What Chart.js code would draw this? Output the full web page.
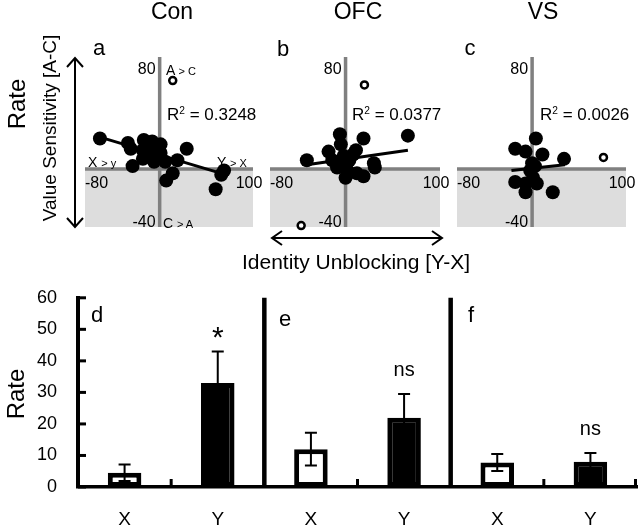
<!DOCTYPE html>
<html>
<head>
<meta charset="utf-8">
<script src="https://cdn.jsdelivr.net/npm/chart.js@4.4.1/dist/chart.umd.min.js"></script>
<style>
  body { margin: 0; background: #fff; }
  #fig { position: relative; width: 640px; height: 527px; overflow: hidden;
         font-family: "Liberation Sans", Arial, sans-serif; color: #000; }
  canvas { position: absolute; }
  .c { position: absolute; white-space: nowrap; line-height: 1; transform: translate(-50%, -50%); }
  .l { position: absolute; white-space: nowrap; line-height: 1; }
  .rot { position: absolute; white-space: nowrap; line-height: 1; transform: translate(-50%, -50%) rotate(-90deg); }
  .sm { font-size: 11px; }
  sup { font-size: 60%; vertical-align: 0.55em; }
</style>
</head>
<body>
<div id="fig">
  <canvas id="scA" width="230" height="200" style="left:45px;top:40px"></canvas>
  <canvas id="scB" width="235" height="200" style="left:230px;top:40px"></canvas>
  <canvas id="scC" width="223" height="200" style="left:417px;top:40px"></canvas>
  <canvas id="bars" width="640" height="261" style="left:0;top:266px"></canvas>

  <svg width="640" height="527" style="position:absolute;left:0;top:0" fill="none" stroke="#000" stroke-width="2">
    <path d="M75 58 V227 M67 67 L75 58 L83 67 M67 218 L75 227 L83 218"/>
    <path d="M272 238 H442 M282 231 L272 238 L282 245 M432 231 L442 238 L432 245"/>
  </svg>

  <div class="c" style="left:172px;top:11px;font-size:23px">Con</div>
  <div class="c" style="left:358px;top:11px;font-size:23px">OFC</div>
  <div class="c" style="left:543px;top:11px;font-size:23px">VS</div>

  <div class="c" style="left:99px;top:48px;font-size:22px">a</div>
  <div class="c" style="left:283px;top:49px;font-size:22px">b</div>
  <div class="c" style="left:470px;top:48px;font-size:22px">c</div>

  <div class="rot" style="left:17px;top:104px;font-size:24px">Rate</div>
  <div class="rot" style="left:49px;top:128px;font-size:19px">Value Sensitivity [A-C]</div>
  <div class="c" style="left:356px;top:261px;font-size:21px">Identity Unblocking [Y-X]</div>

  <div class="l" style="left:166px;top:63px;font-size:14px">A <span class="sm">&gt; C</span></div>
  <div class="l" style="left:88px;top:155px;font-size:14px">X <span class="sm">&gt; y</span></div>
  <div class="l" style="left:217px;top:155px;font-size:14px">Y <span class="sm">&gt; X</span></div>
  <div class="l" style="left:163px;top:216px;font-size:14px">C <span class="sm">&gt; A</span></div>

  <div class="l" id="r2a" style="left:167px;top:106px;font-size:17px"></div>
  <div class="l" id="r2b" style="left:352px;top:106px;font-size:17px"></div>
  <div class="l" id="r2c" style="left:540px;top:106px;font-size:17px"></div>

  <div class="rot" style="left:16px;top:394px;font-size:24px">Rate</div>
  <div class="c" style="left:97px;top:315px;font-size:22px">d</div>
  <div class="c" style="left:285px;top:319px;font-size:22px">e</div>
  <div class="c" style="left:471px;top:315px;font-size:22px">f</div>
</div>

<script>
// ---- scatter data (a: Con, b: OFC, c: VS)
const conX = [-64, -34, -31, -17, -18, -8, 1, -2, -10, -18, -29, -6, 6, 19, 29, 14, 7, 69, 66, 60, 1, -12, -3];
const conY = [21, 18, 14, 20, 13, 19, 17, 12, 10, 7, 2, 5, 5, 6, 14, -3, -8, -1, -4, -14, 11, 15, 15];
const conOutX = [14];
const conOutY = [61];
const conFitX = [-64, 66];
const conFitY = [22, -3];

const ofcX = [-41, -18, -14, -6, -5, -2, -9, 0, 4, 11, 19, 12, 19, 30, 31, 66, 2, -4, 8];
const ofcY = [6, 12, 6, 24, 17, 9, 1, -6, 6, 13, 21, -3, -5, 4, 1, 23, -1, 3, 10];
const ofcOutX = [20, -47];
const ofcOutY = [58, -39];
const ofcFitX = [-41, 66];
const ofcFitY = [3, 13];

const vsX = [-18, -7, 4, 11, 34, 3, -2, -18, -7, 5, -7, 22, 1, 0];
const vsY = [14, 12, 21, 10, 7, 2, -1, -9, -10, -10, -16, -16, -6, 4];
const vsOutX = [76];
const vsOutY = [8];
const vsFitX = [-22, 35];
const vsFitY = [-1, 3];

const r2Values = ['0.3248', '0.0377', '0.0026'];
const xTickLabels = [-80, 100];
const yTickLabels = [80, -40];

// ---- bar data (d, e, f)
const barCats = ['X', 'Y', 'X', 'Y', 'X', 'Y'];
const barMeans = [4.5, 33, 12, 22, 7.8, 8];
const barErrs = [2.6, 10, 5.2, 7.5, 2.7, 2.8];
const barSig = ['', '*', '', 'ns', '', 'ns'];
const barMax = 60;
const barStep = 10;

const FONT = '"Liberation Sans", Arial, sans-serif';
const zip = (xs, ys) => xs.map((x, i) => ({ x: x, y: ys[i] }));

// grey cross axes + shaded lower half + the four tick numbers
const quadrant = {
    id: 'quadrant',
    beforeDatasetsDraw(chart) {
        const { ctx, chartArea: a, scales: { x, y } } = chart;
        const x0 = x.getPixelForValue(0);
        const y0 = y.getPixelForValue(0);
        ctx.save();
        ctx.fillStyle = '#dddddd';
        ctx.fillRect(a.left, y0, a.right - a.left, a.bottom - y0);
        ctx.strokeStyle = '#808080';
        ctx.lineWidth = 3.5;
        ctx.beginPath();
        ctx.moveTo(a.left, y0); ctx.lineTo(a.right, y0);
        ctx.moveTo(x0, a.top + 4); ctx.lineTo(x0, a.bottom);
        ctx.stroke();

        ctx.fillStyle = '#000';
        ctx.font = '16px ' + FONT;
        ctx.textBaseline = 'middle';
        ctx.textAlign = 'left';
        ctx.fillText(String(xTickLabels[0]), x.getPixelForValue(xTickLabels[0]), y0 + 15);
        ctx.textAlign = 'center';
        ctx.fillText(String(xTickLabels[1]), x.getPixelForValue(xTickLabels[1]) - 4, y0 + 15);
        ctx.textAlign = 'right';
        ctx.fillText(String(yTickLabels[0]), x0 - 4, a.top + 17);
        ctx.fillText(String(yTickLabels[1]), x0 - 4, a.bottom - 4);
        ctx.restore();
    }
};

function scatterPanel(id, pts, outs, fit, pad) {
    new Chart(document.getElementById(id), {
        type: 'scatter',
        data: {
            datasets: [
                { type: 'line', data: fit, borderColor: '#000', borderWidth: 3, pointRadius: 0, clip: false },
                { data: pts, backgroundColor: '#000', borderWidth: 0, pointRadius: 7, clip: false },
                { data: outs, backgroundColor: '#fff', borderColor: '#000', borderWidth: 2.5, pointRadius: 3.5, clip: false }
            ]
        },
        options: {
            responsive: false,
            animation: false,
            events: [],
            layout: { padding: pad },
            plugins: { legend: { display: false }, tooltip: { enabled: false } },
            scales: {
                x: { type: 'linear', min: -80, max: 100, display: false },
                y: { type: 'linear', min: -40, max: 80, display: false }
            }
        },
        plugins: [quadrant]
    });
}

scatterPanel('scA', zip(conX, conY), zip(conOutX, conOutY), zip(conFitX, conFitY),
    { left: 40, right: 22, top: 13, bottom: 13 });
scatterPanel('scB', zip(ofcX, ofcY), zip(ofcOutX, ofcOutY), zip(ofcFitX, ofcFitY),
    { left: 40, right: 25, top: 13, bottom: 13 });
scatterPanel('scC', zip(vsX, vsY), zip(vsOutX, vsOutY), zip(vsFitX, vsFitY),
    { left: 40, right: 14, top: 13, bottom: 13 });

['r2a', 'r2b', 'r2c'].forEach((id, i) => {
    document.getElementById(id).innerHTML = 'R<sup>2</sup> = ' + r2Values[i];
});

// error bars, significance marks, inward ticks, group separators
const barDecor = {
    id: 'barDecor',
    afterDatasetsDraw(chart) {
        const { ctx, chartArea: a, scales: { x, y } } = chart;
        const bars = chart.getDatasetMeta(0).data;
        ctx.save();
        ctx.strokeStyle = '#000';
        ctx.fillStyle = '#000';

        ctx.lineWidth = 2;
        bars.forEach((b, i) => {
            const top = y.getPixelForValue(barMeans[i] + barErrs[i]);
            const bot = y.getPixelForValue(barMeans[i] - barErrs[i]);
            ctx.beginPath();
            ctx.moveTo(b.x, top); ctx.lineTo(b.x, bot);
            ctx.moveTo(b.x - 6, top); ctx.lineTo(b.x + 6, top);
            ctx.moveTo(b.x - 6, bot); ctx.lineTo(b.x + 6, bot);
            ctx.stroke();
            if (barSig[i]) {
                const star = barSig[i] === '*';
                ctx.font = (star ? '30px ' : '20px ') + FONT;
                ctx.textAlign = 'center';
                ctx.textBaseline = 'alphabetic';
                ctx.fillText(barSig[i], b.x, top - (star ? 4 : 18));
            }
        });

        // inward y ticks
        ctx.lineWidth = 3;
        y.ticks.forEach(t => {
            const py = y.getPixelForValue(t.value);
            ctx.beginPath();
            ctx.moveTo(a.left, py); ctx.lineTo(a.left + 8, py);
            ctx.stroke();
        });

        // category boundaries: small ticks inside a group, full lines between groups
        const step = bars.length > 1 ? bars[1].x - bars[0].x : 0;
        bars.forEach((b, i) => {
            const bx = Math.min(b.x + step / 2, a.right - 1.5);
            ctx.beginPath();
            if (i % 2 === 1 && i < bars.length - 1) {
                ctx.lineWidth = 4.5;
                ctx.moveTo(bx, a.top); ctx.lineTo(bx, a.bottom);
            } else {
                ctx.lineWidth = 3;
                ctx.moveTo(bx, a.bottom); ctx.lineTo(bx, a.bottom - 8);
            }
            ctx.stroke();
        });
        ctx.restore();
    }
};

new Chart(document.getElementById('bars'), {
    type: 'bar',
    data: {
        labels: barCats,
        datasets: [{
            data: barMeans,
            backgroundColor: barCats.map(c => c === 'X' ? '#fff' : '#000'),
            borderColor: '#000',
            borderWidth: 5,
            borderSkipped: false,
            categoryPercentage: 1,
            barPercentage: 0.36
        }]
    },
    options: {
        responsive: false,
        animation: false,
        events: [],
        layout: { padding: { top: 0, right: 3, left: 0, bottom: 0 } },
        plugins: { legend: { display: false }, tooltip: { enabled: false } },
        scales: {
            x: {
                grid: { display: false, drawTicks: false },
                border: { display: true, color: '#000', width: 3.5 },
                ticks: { color: '#000', font: { size: 19, family: FONT }, padding: 21 },
                afterFit: s => { s.height = 40; }
            },
            y: {
                min: 0, max: barMax,
                grid: { display: false, drawTicks: false },
                border: { display: true, color: '#000', width: 4 },
                ticks: { stepSize: barStep, color: '#000', font: { size: 18, family: FONT }, padding: 21 },
                afterFit: s => { s.width = 78; }
            }
        }
    },
    plugins: [barDecor]
});
</script>
</body>
</html>
